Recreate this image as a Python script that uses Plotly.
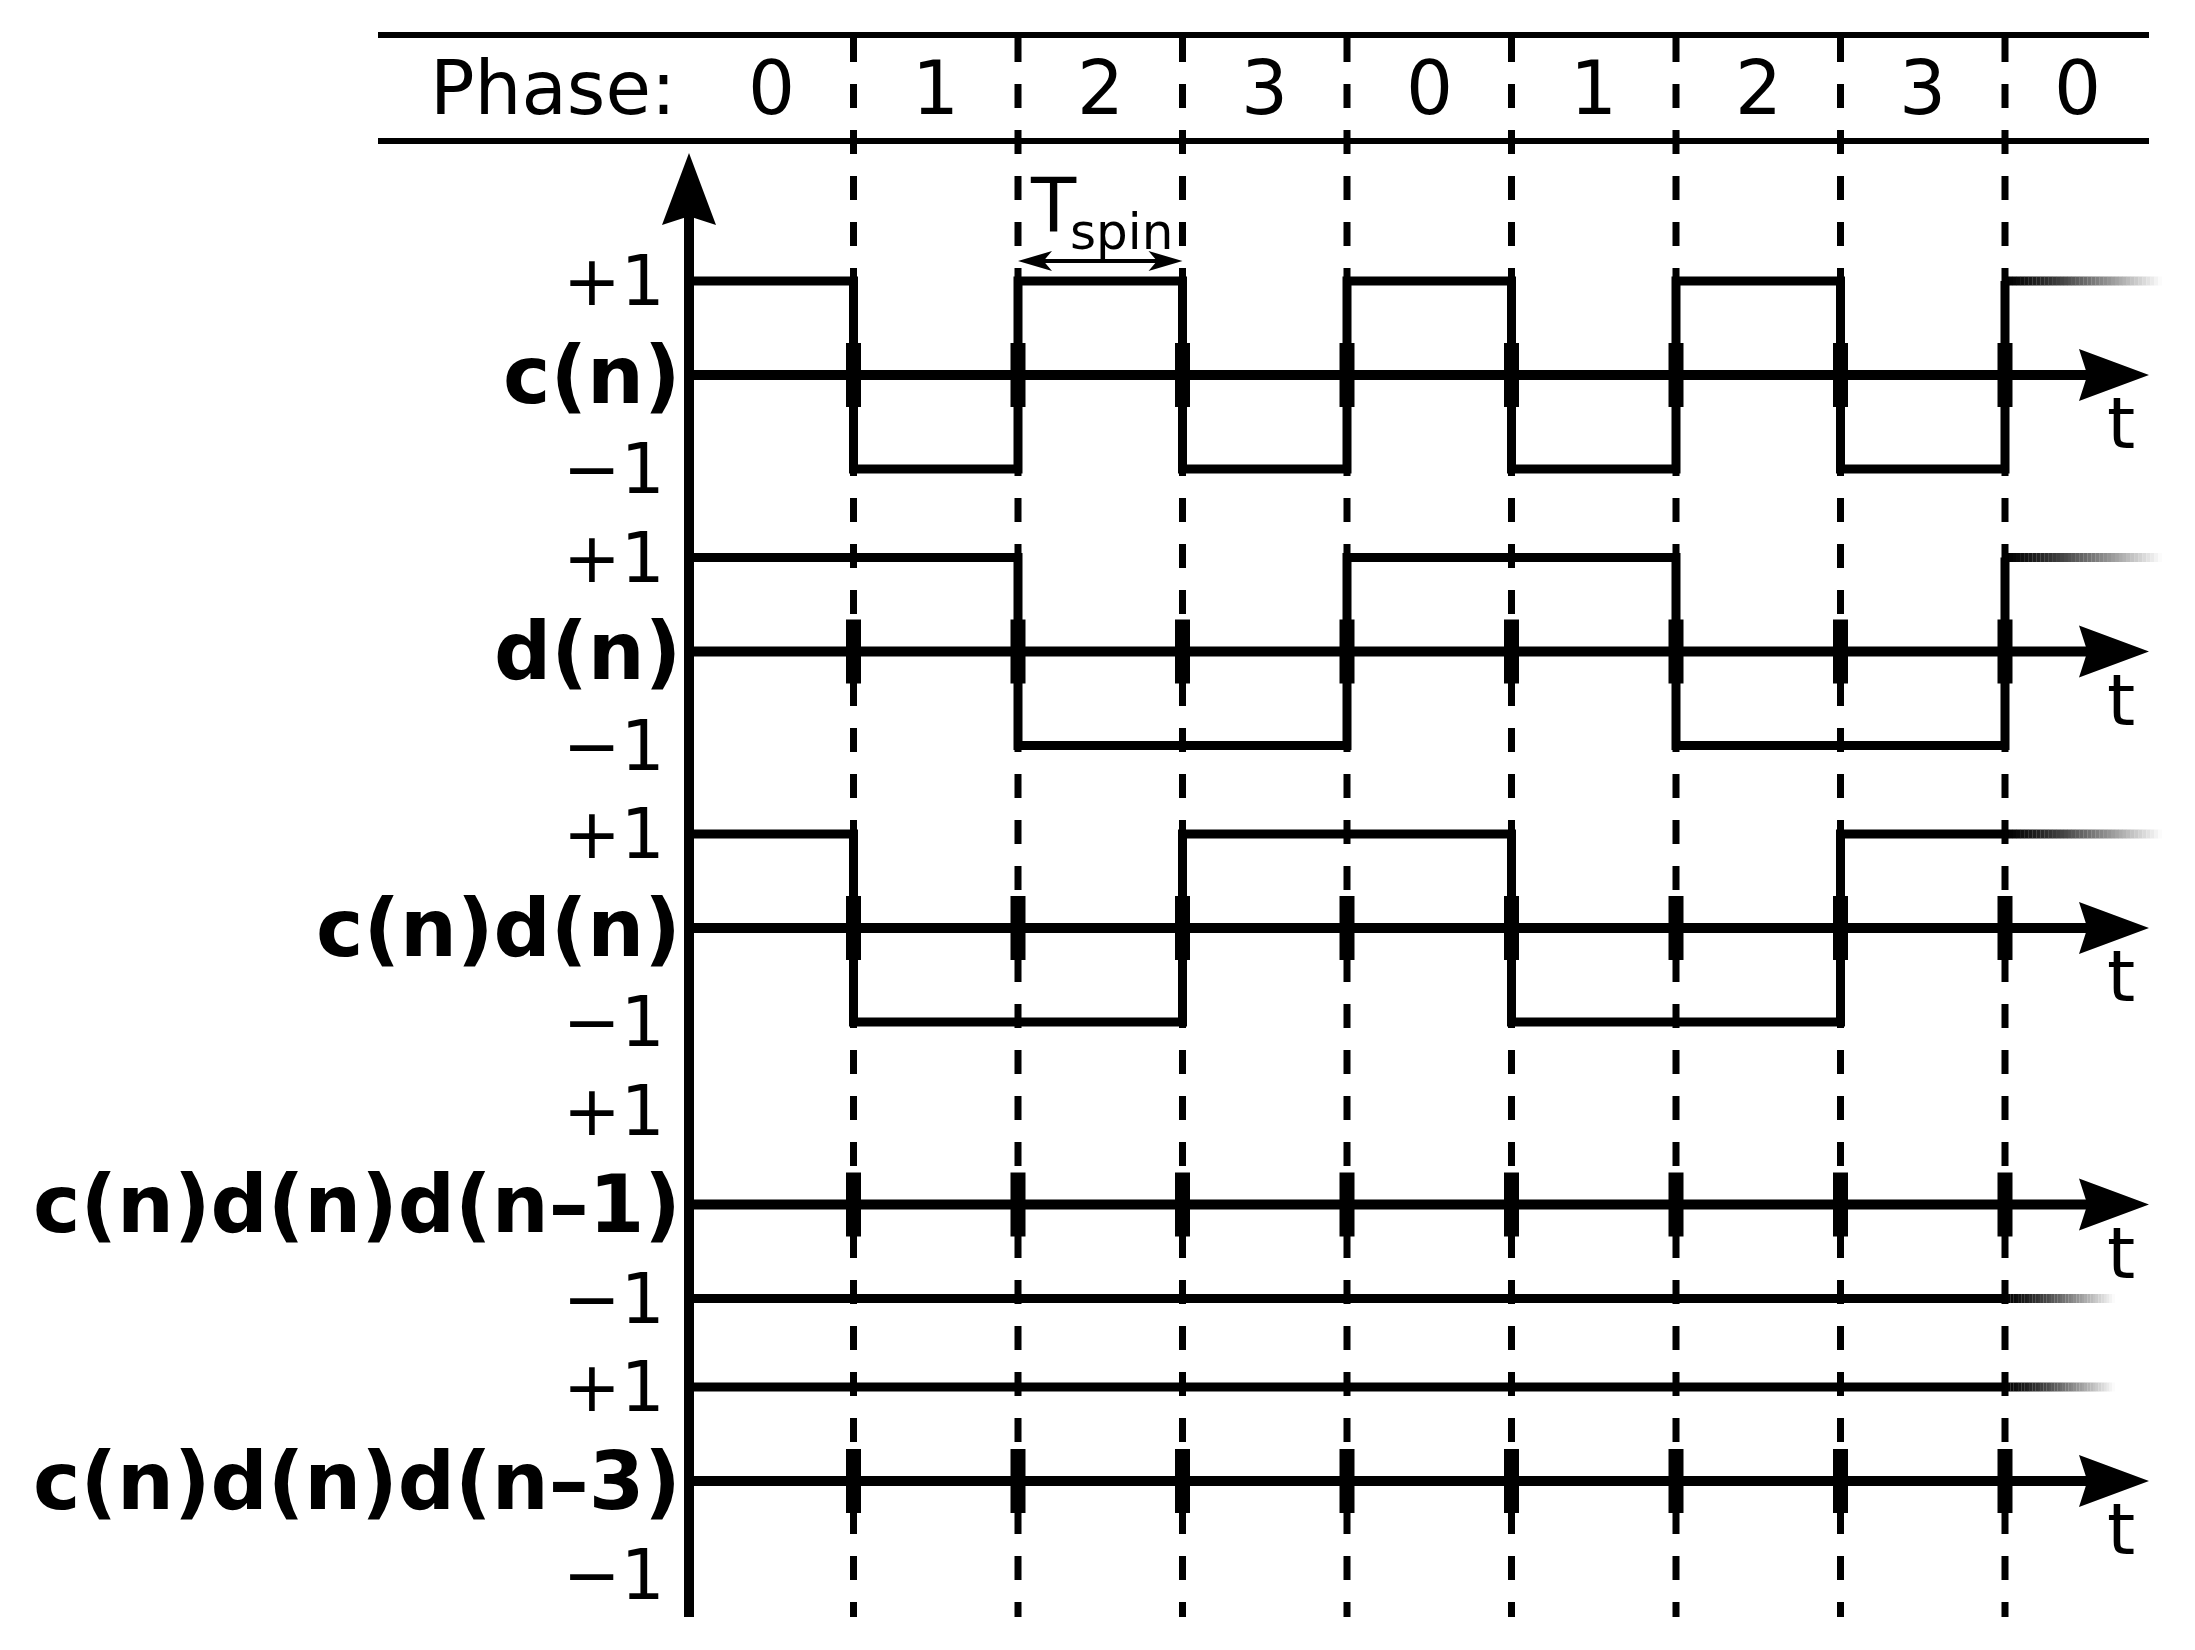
import plotly.graph_objects as go

# ---------------- data ----------------
phases = ["0", "1", "2", "3", "0", "1", "2", "3", "0"]
signal_names = ["c(n)", "d(n)", "c(n)d(n)", "c(n)d(n)d(n–1)", "c(n)d(n)d(n–3)"]
c_n = [1, -1, 1, -1, 1, -1, 1, -1, 1]
d_n = [1, 1, -1, -1, 1, 1, -1, -1, 1]
cd_n = [1, -1, -1, 1, 1, -1, -1, 1, 1]
cdd_n1 = [-1, -1, -1, -1, -1, -1, -1, -1, -1]
cdd_n3 = [1, 1, 1, 1, 1, 1, 1, 1, 1]
signals = [c_n, d_n, cd_n, cdd_n1, cdd_n3]
level_labels = ["+1", "−1"]
header_label = "Phase:"
axis_label = "t"
tspin_main, tspin_sub = "T", "spin"
tspin_interval = [2, 3]

# ---------------- geometry (page-pixel calibration) ----------------
PAGE_W, PAGE_H = 2195, 1650
BODY = 8                      # default body margin of the html page
W, H = PAGE_W - 2 * BODY, PAGE_H - 2 * BODY
PX_T = 164.5      # pixels per Tspin
X0 = 689          # page pixel x of t = 0
PX_U = 94         # pixels per signal unit
Y0 = 375          # page pixel y of first baseline
ROW = 276.5       # pixel spacing between rows


def xp(px):
    return (px - X0) / PX_T


def yp(px):
    return (Y0 - px) / PX_U


def dxp(px):
    return px / PX_T


def dyp(px):
    return px / PX_U


n_int = len(phases) - 1
T_END = xp(2149)
FADE_END = [xp(2162), xp(2162), xp(2162), xp(2115), xp(2115)]
bases = [-k * ROW / PX_U for k in range(len(signals))]

FONT = "DejaVu Sans"
BLACK = "#000000"

fig = go.Figure()


def add_line(xs, ys, width, color=BLACK, dash=None, shape="linear"):
    fig.add_trace(go.Scatter(x=xs, y=ys, mode="lines",
                             line=dict(color=color, width=width, dash=dash, shape=shape),
                             hoverinfo="skip", showlegend=False))


def add_poly(xs, ys):
    fig.add_trace(go.Scatter(x=xs + [xs[0]], y=ys + [ys[0]], mode="lines", fill="toself",
                             fillcolor=BLACK, line=dict(color=BLACK, width=0),
                             hoverinfo="skip", showlegend=False))


def arrow_h(tip_x, y, direction, L, Hh, notch):
    bx = tip_x - direction * dxp(L)
    nx = tip_x - direction * dxp(L * notch)
    add_poly([tip_x, bx, nx, bx], [y, y + dyp(Hh), y, y - dyp(Hh)])


def arrow_v(x, tip_y, L, Hh, notch):
    by = tip_y - dyp(L)
    ny = tip_y - dyp(L * notch)
    add_poly([x, x - dxp(Hh), x, x + dxp(Hh)], [tip_y, by, ny, by])


# header lines
for ypx in (35, 141):
    add_line([xp(378), T_END], [yp(ypx), yp(ypx)], 6)

# dashed phase boundaries
dx_list, dy_list = [], []
for k in range(1, n_int + 1):
    dx_list += [k, k, None]
    dy_list += [yp(38), yp(1617), None]
add_line(dx_list, dy_list, 7, dash="24px,22px")

# vertical axis with arrow
add_line([0, 0], [yp(1617), yp(210)], 10)
arrow_v(0, yp(153), 72, 27, 0.88)

# rows
for i, (sig, base) in enumerate(zip(signals, bases)):
    add_line([0, T_END - dxp(30)], [base, base], 10)
    arrow_h(T_END, base, 1, 70, 26, 0.88)
    tx, ty = [], []
    for k in range(1, n_int + 1):
        tx += [k, k, None]
        ty += [base - dyp(32), base + dyp(32), None]
    add_line(tx, ty, 15)
    xs = list(range(len(sig)))
    ys = [base + v for v in sig]
    add_line(xs, ys, 9, shape="hv")
    # fading tail
    N = 40
    t0, t1 = n_int, FADE_END[i]
    for j in range(N):
        a = t0 + (t1 - t0) * j / N
        b = t0 + (t1 - t0) * (j + 1.05) / N
        g = int(round(255 * ((j + 0.5) / N) ** 1.3))
        add_line([a, b], [base + sig[-1], base + sig[-1]], 9, color=f"rgb({g},{g},{g})")

# Tspin double arrow
ta, tb = tspin_interval
y_ts = yp(261)
add_line([ta + dxp(20), tb - dxp(20)], [y_ts, y_ts], 4)
arrow_h(ta, y_ts, -1, 34, 10, 0.75)
arrow_h(tb, y_ts, 1, 34, 10, 0.75)

annotations = []


def ann(text, x, y, size, xanchor="center", bold=False):
    annotations.append(dict(text=f"<b>{text}</b>" if bold else text, x=x, y=y,
                            xref="x", yref="y", showarrow=False,
                            xanchor=xanchor, yanchor="middle",
                            font=dict(family=FONT, size=size, color=BLACK)))


# header texts
ann(header_label, xp(553), yp(88), 74)
for k, ph in enumerate(phases):
    xc = k + 0.5 if k < n_int else (n_int + T_END) / 2
    ann(ph, xc, yp(88), 74)

# row labels
for name, base in zip(signal_names, bases):
    ann(name, xp(683), base, 80, xanchor="right", bold=True)
    ann(level_labels[0], xp(667), base + 1, 69, xanchor="right")
    ann(level_labels[1], xp(667), base - 1, 69, xanchor="right")
    ann(axis_label, T_END - dxp(28), base - dyp(48), 72)

# Tspin text
ann(tspin_main, ta + dxp(35), yp(205), 74)
ann(tspin_sub, ta + dxp(103), yp(232), 50)

fig.update_layout(
    width=W, height=H, autosize=False,
    margin=dict(l=0, r=0, t=0, b=0, pad=0),
    paper_bgcolor="white", plot_bgcolor="white",
    showlegend=False,
    xaxis=dict(range=[xp(BODY), xp(BODY + W)], visible=False, fixedrange=True),
    yaxis=dict(range=[yp(BODY + H), yp(BODY)], visible=False, fixedrange=True),
    annotations=annotations,
)

fig.write_html("out.html")
